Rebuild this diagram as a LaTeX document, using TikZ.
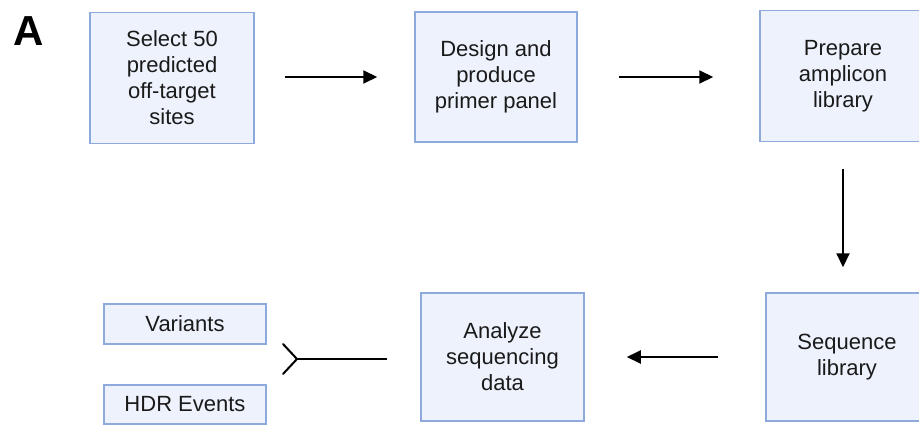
\documentclass[tikz,border=0pt]{standalone}
\usepackage{fontspec}
\setmainfont{Liberation Sans}
\usetikzlibrary{arrows.meta}

\definecolor{boxfill}{HTML}{EDF2FC}
\definecolor{boxline}{HTML}{8EA9DB}
\definecolor{txt}{HTML}{1A1A1A}

\tikzset{
    stepbox/.style={draw=boxline, fill=boxfill, line width=1.5pt, align=center,
        text=txt, font=\fontsize{22}{26}\selectfont, inner sep=0pt},
    arr/.style={line width=2pt, -{Triangle[length=14pt, width=13pt]}},
}

\begin{document}
\begin{tikzpicture}[x=1pt, y=-1pt]
    \useasboundingbox (0,0) rectangle (919,426);
    \clip (0,0) rectangle (919,426);
    % panel letter
    \node (lbl) at (29,31) {\fontsize{42}{42}\selectfont\bfseries A};
    % top row
    \node[stepbox, minimum width=164pt, minimum height=131pt] (sel) at (172,78) {Select 50\\predicted\\off-target\\sites};
    \node[stepbox, minimum width=162pt, minimum height=130pt] (design) at (496,77) {Design and\\produce\\primer panel};
    \node[stepbox, minimum width=166pt, minimum height=131pt] (prep) at (843,76) {Prepare\\amplicon\\library};
    % bottom row
    \node[stepbox, minimum width=162pt, minimum height=128pt] (seq) at (847,357) {Sequence\\library};
    \node[stepbox, minimum width=163pt, minimum height=128pt] (ana) at (502.5,357) {Analyze\\sequencing\\data};
    \node[stepbox, minimum width=162pt, minimum height=40pt] (var) at (185,324) {Variants};
    \node[stepbox, minimum width=162pt, minimum height=39pt] (hdr) at (185,404.5) {HDR Events};
    % arrows
    \draw[arr, shorten <=30pt, shorten >=37pt] (sel.east |- design) -- (design);
    \draw[arr, shorten <=41pt, shorten >=46pt] (design) -- (design -| prep.west);
    \draw[arr, shorten <=27pt, shorten >=25pt] (prep.south) -- (prep.south |- seq.north);
    \draw[arr, shorten <=47pt, shorten >=42pt] (seq) -- (ana);
    % fork to outputs
    \coordinate (fork) at (297,359);
    \draw[line width=2pt, shorten <=33pt] (ana.west |- fork) -- (fork);
    \draw[line width=2pt, line cap=round] (fork) -- ++(-14,-15) (fork) -- ++(-14,15);
\end{tikzpicture}
\end{document}
